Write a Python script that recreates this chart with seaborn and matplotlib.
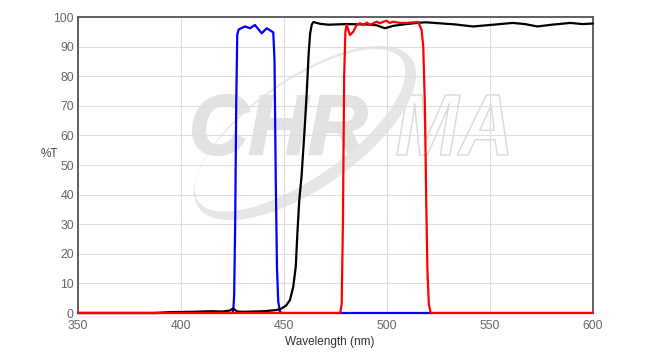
import numpy as np
import pandas as pd
import seaborn as sns
import matplotlib
matplotlib.use("Agg")
import matplotlib.pyplot as plt
from matplotlib.textpath import TextPath
from matplotlib.font_manager import FontProperties
from matplotlib.patches import PathPatch, Polygon
from matplotlib.transforms import Affine2D

# ---------------- data ----------------
blue_nm = [350, 425.0, 425.4, 425.8, 426.3, 426.8, 427.3, 428.0, 431.1, 433.5, 435.9,
           439.2, 441.6, 444.8, 445.4, 446.0, 446.6, 447.2, 448.0, 449.0, 600]
blue_T = [0, 0, 1.0, 6, 30, 70, 94, 95.8, 96.8, 96.2, 97.3,
          94.5, 96.2, 94.8, 85, 45, 15, 4, 0.4, 0, 0]

black_nm = [350, 387, 395, 405, 415, 420, 423.5, 425.3, 427.3, 430, 440, 445, 448,
            451, 452.9, 454.5, 455.7, 456.5, 457.4, 458.5, 460, 461, 462, 462.7,
            463.5, 464.3, 467.5, 471.5, 480, 490, 495, 499, 503, 508, 516, 519,
            525, 533, 541.7, 550, 561, 567, 573, 580, 589, 595, 600]
black_T = [0, 0, 0.3, 0.4, 0.6, 0.5, 0.8, 1.5, 0.5, 0.4, 0.6, 0.9, 1.2,
           2.5, 4.4, 8.9, 15.6, 27, 38, 46, 62, 74, 88, 94.5,
           97.5, 98.3, 97.7, 97.4, 97.6, 97.5, 97.2, 96.2, 97.0, 97.5, 98.1, 98.2,
           97.9, 97.5, 96.8, 97.3, 98.0, 97.6, 96.8, 97.4, 98.0, 97.6, 97.8]

red_nm = [350, 477.3, 478.0, 478.6, 479.2, 479.8, 480.4, 482.0, 483.6, 485.3, 486.9,
          488.5, 490.2, 491.8, 493.4, 495.0, 496.6, 498.2, 499.8, 501.4, 503.0,
          506.3, 509.5, 512.8, 515.2, 516.8, 517.6, 518.4, 519.0, 519.6, 520.3, 521.2, 600]
red_T = [0, 0, 3, 30, 80, 95, 97.3, 93.9, 95.0, 97.3, 97.9,
         97.3, 98.1, 97.3, 97.9, 98.4, 97.9, 98.4, 98.7, 98.0, 98.4,
         98.0, 98.0, 98.2, 98.3, 95.6, 90, 70, 40, 15, 3, 0, 0]

x_ticks = [350, 400, 450, 500, 550, 600]
y_ticks = [0, 10, 20, 30, 40, 50, 60, 70, 80, 90, 100]

series_names = ["blue", "black", "red"]
series_colors = {"blue": "#0000ff", "black": "#000000", "red": "#ff0000"}

frames = []
for name, xs, ys in [("blue", blue_nm, blue_T), ("black", black_nm, black_T), ("red", red_nm, red_T)]:
    frames.append(pd.DataFrame({"nm": xs, "T": ys, "filter": name}))
df = pd.concat(frames, ignore_index=True)

# ---------------- figure ----------------
sns.set_theme(style="whitegrid")
plt.rcParams["font.family"] = ["Liberation Sans", "DejaVu Sans"]

W, H = 652, 354
fig = plt.figure(figsize=(W / 100, H / 100), dpi=100)
fig.patch.set_facecolor("white")

# watermark axes (behind)
wm = fig.add_axes([0, 0, 1, 1], zorder=0)
wm.set_xlim(0, W)
wm.set_ylim(H, 0)
wm.axis("off")

fp = FontProperties(family="Liberation Sans", weight="bold", style="italic")

def place_text(s, x0, x1, y0, y1, **kw):
    tp = TextPath((0, 0), s, size=100, prop=fp)
    bb = tp.get_extents()
    sx = (x1 - x0) / bb.width
    sy = (y1 - y0) / bb.height
    tr = Affine2D().translate(-bb.x0, -bb.y0).scale(sx, -sy).translate(x0, y1)
    p = tr.transform_path(tp)
    wm.add_patch(PathPatch(p, **kw))

place_text("CHR", 193, 367, 95, 155, facecolor="#e2e2e2", edgecolor="#e2e2e2", lw=1.5)
place_text("MA", 397, 508, 95, 155, facecolor="none", edgecolor="#d8d8d8", lw=1.0)

# swoosh crescent
c = np.array([305.0, 133.0])
th = np.deg2rad(35)
u = np.array([np.cos(th), -np.sin(th)])
v = np.array([np.sin(th), np.cos(th)])
a, b = 130.0, 55.0
t = np.linspace(0, 2 * np.pi, 400)
outer = c + np.outer(a * np.cos(t), u) + np.outer(b * np.sin(t), v)
ci = c - 2.5 * u - 5.0 * v
inner = ci + np.outer((a - 6) * np.cos(t), u) + np.outer((b - 7) * np.sin(t), v)
ring = np.vstack([outer, inner[::-1]])
wm.add_patch(Polygon(ring, closed=True, facecolor="#e6e6e6", edgecolor="none"))

# main axes
ax = fig.add_axes([78 / W, (H - 313) / H, 515 / W, 296 / H], zorder=1)
ax.set_facecolor("none")

sns.lineplot(data=df, x="nm", y="T", hue="filter", estimator=None, sort=False,
             palette=series_colors, hue_order=series_names, linewidth=1.6,
             legend=False, ax=ax)
for ln in ax.lines:
    ln.set_clip_on(False)
    ln.set_zorder(3)

ax.set_xlim(350, 600)
ax.set_ylim(0, 100)
ax.set_xticks(x_ticks)
ax.set_yticks(y_ticks)
ax.set_xticklabels([str(v_) for v_ in x_ticks])
ax.set_yticklabels([str(v_) for v_ in y_ticks])
ax.tick_params(axis="both", length=0, labelsize=8.7, colors="#666666")
ax.tick_params(axis="y", pad=3)
ax.tick_params(axis="x", pad=5)
ax.grid(True, color="#dddddd", linewidth=0.8)
ax.set_xlabel("")
ax.set_ylabel("")
for side, sp in ax.spines.items():
    sp.set_visible(True)
    sp.set_color("#555555")
    sp.set_linewidth(1.3)
    sp.set_zorder(2.5)

fig.text(49.5 / W, 1 - 154 / H, "%T", ha="center", va="center", fontsize=8.5, color="#444444")
fig.text(330 / W, 1 - 342 / H, "Wavelength (nm)", ha="center", va="center", fontsize=8.5, color="#333333")

fig.savefig("out.png", dpi=100)
